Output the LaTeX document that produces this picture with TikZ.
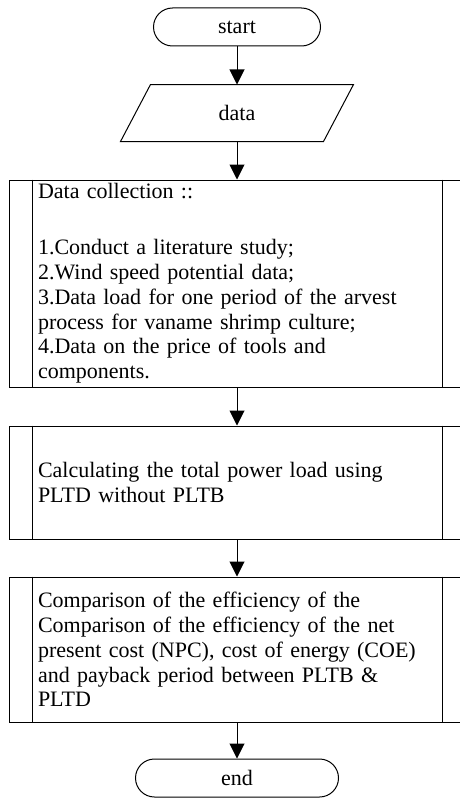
\documentclass[tikz,border=0pt]{standalone}
\usepackage{fontspec}
\setmainfont{Liberation Serif}
\usetikzlibrary{calc,shapes.misc,arrows.meta}
\begin{document}
\begin{tikzpicture}[x=1pt,y=-1pt,line width=1pt,
  font=\fontsize{22pt}{24.8pt}\selectfont,
  term/.style={draw, rounded rectangle, minimum height=38pt, inner sep=0pt},
  iobox/.style={minimum width=202pt, minimum height=56pt, inner sep=0pt},
  proc/.style={draw, minimum width=457pt, text width=399pt, align=left, inner xsep=5pt, inner ysep=0pt},
  flow/.style={-{Triangle[length=15pt,width=15pt]}}
]
\useasboundingbox (0,0) rectangle (459,800);

\node[term, minimum width=167pt] (start) at (237,27) {start};
\node[iobox] (data) at (237,113) {data};
\draw ($(data.north west)+(15,0)$) -- ($(data.north east)+(15,0)$) -- ($(data.south east)+(-15,0)$) -- ($(data.south west)+(-15,0)$) -- cycle;

\node[proc, minimum height=207pt] (b1) at (237.5,283.5) {Data collection ::\\[31.2pt]
1.Conduct a literature study;\\
2.Wind speed potential data;\\
3.Data load for one period of the arvest\\
process for vaname shrimp culture;\\
4.Data on the price of tools and\\
components.};

\node[proc, minimum height=113pt] (b2) at (237.5,482.5) {Calculating the total power load using\\
PLTD without PLTB};

\node[proc, minimum height=145pt] (b3) at (237.5,649.5) {Comparison of the efficiency of the\\
Comparison of the efficiency of the net\\
present cost (NPC), cost of energy (COE)\\
and payback period between PLTB \&\\
PLTD};

\node[term, minimum width=203pt] (stop) at (237,778) {end};

\foreach \b in {b1,b2,b3}{
  \draw ($(\b.north west)+(24,0)$) -- ($(\b.south west)+(24,0)$);
  \draw ($(\b.north east)+(-24,0)$) -- ($(\b.south east)+(-24,0)$);
}

\draw[flow] (start.south) -- (data.north);
\draw[flow] (data.south) -- (data.south |- b1.north);
\draw[flow] (data.south |- b1.south) -- (data.south |- b2.north);
\draw[flow] (data.south |- b2.south) -- (data.south |- b3.north);
\draw[flow] (data.south |- b3.south) -- (stop.north);
\end{tikzpicture}
\end{document}
